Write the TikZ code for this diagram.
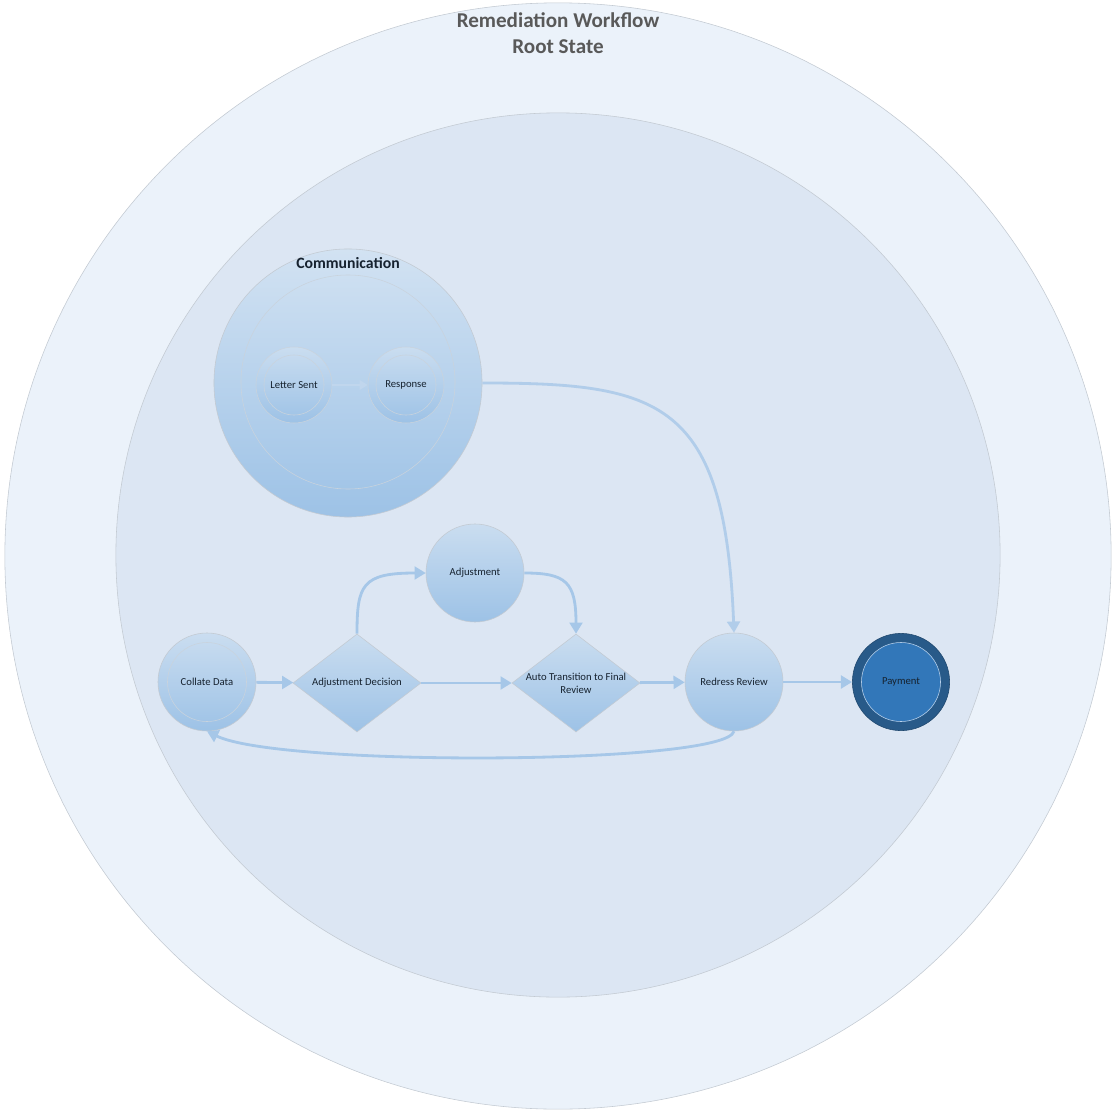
\documentclass[tikz,border=0pt]{standalone}
\usepackage{fontspec}
\setmainfont{Carlito}
\usetikzlibrary{shapes.geometric, arrows.meta, positioning}
\definecolor{croot}{HTML}{EBF2FA}
\definecolor{cinner}{HTML}{DCE6F3}
\definecolor{cedge}{HTML}{C3CAD2}
\definecolor{cring}{HTML}{C9D3DD}
\definecolor{ctop}{HTML}{CADDF0}
\definecolor{cbot}{HTML}{9DC2E6}
\definecolor{carr}{HTML}{A6C7E8}
\definecolor{cfaint}{HTML}{C0D6ED}
\definecolor{ctxt}{HTML}{16222F}
\definecolor{ctitle}{HTML}{595959}
\definecolor{cpayd}{HTML}{285A89}
\definecolor{cpay}{HTML}{3277B9}
\definecolor{cpayln}{HTML}{B9D2EC}

\begin{document}
\begin{tikzpicture}[x=0.025cm, y=-0.025cm,
  zone/.style={circle, draw=cedge, fill=#1, inner sep=0pt},
  st/.style={circle, draw=cedge, top color=ctop, bottom color=cbot,
             inner sep=0pt, minimum size=2.45cm, text=ctxt,
             font=\fontsize{7.6}{9}\selectfont},
  ring/.style={circle, draw=cring, inner sep=0pt, minimum size=#1},
  dec/.style={diamond, draw=cedge, top color=ctop, bottom color=cbot,
              inner sep=0pt, minimum width=3.2cm, minimum height=2.45cm},
  lbl/.style={text=ctxt, align=center, font=\fontsize{7.6}{9.5}\selectfont},
  arr/.style={-{Triangle[length=2.8mm, width=3.2mm]}, line width=2pt, draw=#1}
]
\useasboundingbox (0,0) rectangle (1116,1116);

%% ── Root state and workflow area
\node[zone=croot, minimum size=27.65cm] (root) at (558,556) {};
\node[zone=cinner, minimum size=22.1cm] (area) at (558,555) {};
\node[text=ctitle, font=\fontsize{15}{18.5}\selectfont\bfseries, align=center]
  (title) at (558,33) {Remediation Workflow\\Root State};

%% ── Communication sub-state
\node[circle, draw=cedge, top color=ctop!85!white, bottom color=cbot,
      inner sep=0pt, minimum size=6.7cm] (comm) at (348,383) {};
\node[ring=5.35cm] (commin) at (348,382) {};
\node[text=ctxt, font=\fontsize{11.2}{13}\selectfont\bfseries]
  (commlbl) at (348,263) {Communication};
\node[st, minimum size=1.9cm, draw=cring] (letter) at (294,385) {Letter Sent};
\node[ring=1.5cm] (letterin) at (letter) {};
\node[st, minimum size=1.9cm, draw=cring] (resp) at (406,385) {Response};
\node[ring=1.5cm] (respin) at (resp) {};

%% ── Main flow
\node[st] (collate) at (207,682) {Collate Data};
\node[ring=1.975cm] (collatein) at (collate) {};
\node[dec, label={[lbl]center:Adjustment Decision}] (adjdec) at (357,683) {};
\node[st] (adj) at (475,573) {Adjustment};
\node[dec, label={[lbl]center:{Auto Transition to Final\\Review}}] (auto) at (576,683) {};
\node[st] (redress) at (734,682) {Redress Review};
\node[circle, fill=cpayd, draw=cpayd!80!black, inner sep=0pt,
      minimum size=2.43cm] (pay) at (901,682) {};
\node[circle, fill=cpay, draw=cpayln, inner sep=0pt, minimum size=1.975cm,
      text=ctxt, font=\fontsize{7.6}{9}\selectfont] (payin) at (pay) {Payment};

%% ── Transitions
\draw[-{Triangle[length=2mm, width=2.4mm]}, line width=1pt, draw=cfaint]
  (letter) -- (resp);
\draw[arr=carr] (collate) -- (adjdec);
\draw[arr=carr] (adjdec) -- (auto);
\draw[arr=carr] (auto) -- (redress);
\draw[arr=carr] (redress) -- (pay);
\draw[arr=carr] (adjdec.north) .. controls (357,585) and (362,573) .. (adj.west);
\draw[arr=carr] (adj.east) .. controls (566,573) and (576,582) .. (auto.north);
\draw[arr=carr!80!cinner] (comm.east) .. controls (660,383) and (725,400) .. (redress.north);
\draw[arr=carr] (redress.south) .. controls (725,765) and (280,767) .. (collate.south);

\end{tikzpicture}
\end{document}
